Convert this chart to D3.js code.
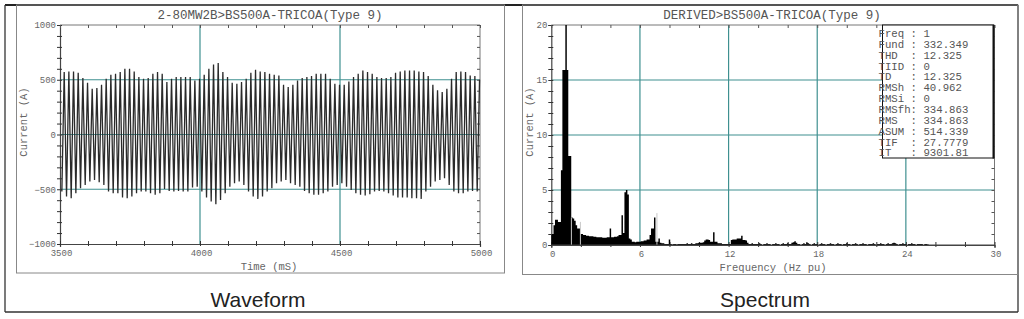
<!DOCTYPE html>
<html><head><meta charset="utf-8">
<script src="https://cdn.jsdelivr.net/npm/d3@7"></script>
<style>html,body{margin:0;padding:0;background:#fff;}svg{display:block}</style>
</head><body>
<svg id="c" width="1024" height="319"></svg>
<script>
// ---------------- DATA ----------------
const wfTitle = "2-80MW2B>BS500A-TRICOA(Type 9)";
const spTitle = "DERIVED>BS500A-TRICOA(Type 9)";
const wfYTicks = [-1000, -500, 0, 500, 1000];
const wfXTicks = [3500, 4000, 4500, 5000];
const wfStart = 3515;          // time of first positive peak (ms)
const wfPeriod = 1000 / 60;    // one cycle (ms)
const posPeaks = [570,575,575,564,515,473,418,424,455,509,545,554,570,600,600,575,524,509,515,554,570,554,479,509,524,524,524,524,494,509,545,600,639,654,570,524,473,464,479,509,564,591,575,570,554,
                  545,539,455,433,455,494,515,524,533,554,554,554,509,464,455,455,485,524,554,585,570,554,524,515,515,524,564,575,585,585,585,575,570,533,455,403,388,418,509,570,575,570,539,533,500];
const negPeaks = [-521,-567,-582,-536,-491,-460,-430,-415,-436,-460,-521,-536,-536,-576,-582,-567,-536,-521,-521,-536,-551,-536,-497,-515,-521,-515,-521,-521,-485,-476,-521,-576,-612,-636,-597,-536,-476,-445,-430,-460,-521,-567,-588,-567,-521,
                  -491,-445,-430,-415,-445,-460,-476,-515,-536,-551,-551,-536,-521,-476,-460,-445,-476,-506,-536,-551,-557,-545,-521,-515,-521,-536,-557,-576,-576,-576,-582,-582,-588,-521,-476,-430,-415,-400,-460,-521,-536,-536,-521,-515,-521];

const spYTicks = [0, 5, 10, 15, 20];
const spXTicks = [0, 6, 12, 18, 24, 30];
const specStep = 0.1;  // Hz pu per bin
const specAmp = [
  0.9,1.0,1.8,2.3,2.3,2.1,2.1,6.8,15.9,15.9,
  332.3,15.9,8.1,8.1,2.5,2.4,2.2,1.8,1.5,1.5,
  1.0,1.0,0.9,0.9,0.85,0.85,0.8,0.8,0.8,0.75,
  0.75,0.7,0.7,0.7,0.7,0.65,0.65,0.65,0.7,0.7,
  1.5,0.7,0.7,0.75,0.75,0.8,0.9,0.9,2.7,1.1,
  4.8,5.0,4.6,0.6,0.5,0.3,0.3,0.25,0.3,0.3,
  0.3,0.35,0.35,0.4,0.4,0.5,0.5,0.9,1.5,1.5,
  2.5,0.3,0.3,0.6,0.2,0.15,0.15,0.1,0.1,0.1,
  0.5,0.1,0.05,0.1,0.1,0.05,0.1,0.1,0.1,0.1,
  0.1,0.1,0.15,0.1,0.1,0.15,0.1,0.1,0.15,0.15,
  0.2,0.2,0.2,0.25,0.4,0.5,0.5,0.45,0.3,0.3,
  1.15,0.3,0.3,0.15,0.15,0.15,0.1,0.1,0.1,0.1,
  0.1,0.1,0.45,0.5,0.5,0.5,0.6,0.6,0.6,0.85,
  0.45,0.45,0.4,0.2,0.1,0.1,0.15,0.1,0.1,0.1,
  0.1,0.15,0.1,0,0.1,0.1,0.15,0.1,0.1,0,
  0.1,0.1,0.15,0.1,0.1,0,0.1,0.15,0.1,0.1,
  0.15,0.1,0.1,0.2,0.25,0.35,0.2,0.1,0.1,0,
  0.1,0.15,0.1,0.25,0.15,0.1,0,0.1,0.15,0.1,
  0.1,0,0.1,0.15,0.1,0.1,0,0.1,0.1,0.15,
  0.1,0.1,0,0.1,0.15,0.1,0.1,0,0.1,0.1,
  0.15,0.1,0.1,0,0.1,0.1,0.15,0.1,0,0.1,
  0.1,0.15,0.1,0.1,0,0.1,0.1,0.1,0.15,0.1,
  0,0.1,0.1,0.15,0.1,0.1,0,0.1,0.15,0.1,
  0.1,0.15,0.2,0.15,0.1,0,0.1,0.1,0.15,0.1,
  0.1,0,0.1,0.1,0.15,0.1,0.1,0,0.1,0.1,
  0.1,0.1,0,0.1,0.1,0.05,0,0,0,0
];
const lightFreq = [1.36, 1.97, 7.15];
const lightAmp  = [2.5, 2.1, 2.9];
const statLabels = ["Freq","Fund","THD","TIID","TD","RMSh","RMSi","RMSfh","RMS","ASUM","TIF","IT"];
const statValues = ["1","332.349","12.325","0","12.325","40.962","0","334.863","334.863","514.339","27.7779","9301.81"];
const captions = ["Waveform", "Spectrum"];

// ---------------- DRAW ----------------
const svg = d3.select("#c");
const mono = "'Liberation Mono','Courier New',monospace";
const sans = "'Liberation Sans',Arial,sans-serif";
const gridCol = "#3f9090";
const fmt = d3.format("d");

// outer table frame
svg.append("line").attr("x1",5).attr("x2",1018).attr("y1",5).attr("y2",5).attr("stroke","#222").attr("stroke-width",2);
svg.append("line").attr("x1",5).attr("x2",1018).attr("y1",312).attr("y2",312).attr("stroke","#333").attr("stroke-width",1.3);
svg.append("line").attr("x1",5).attr("x2",5).attr("y1",5).attr("y2",312).attr("stroke","#333").attr("stroke-width",1.3);
svg.append("line").attr("x1",1018).attr("x2",1018).attr("y1",5).attr("y2",312).attr("stroke","#333").attr("stroke-width",1.3);
// screenshot frames
svg.append("rect").attr("x",16.5).attr("y",5).attr("width",488).attr("height",268).attr("fill","none").attr("stroke","#888").attr("stroke-width",1);
svg.append("rect").attr("x",522.5).attr("y",5).attr("width",495.5).attr("height",269.5).attr("fill","none").attr("stroke","#888").attr("stroke-width",1);

function drawFrame(g, x, y, xMinor, yMinor, xLabelTicks, yLabelTicks, gridX, gridY) {
  const [x0, x1] = x.range(), [y0, y1] = y.range();
  g.selectAll(".gx").data(gridX).enter().append("line")
    .attr("x1", d => x(d)).attr("x2", d => x(d)).attr("y1", y0).attr("y2", y1)
    .attr("stroke", gridCol).attr("stroke-width", 1.2);
  g.selectAll(".gy").data(gridY).enter().append("line")
    .attr("x1", x0).attr("x2", x1).attr("y1", d => y(d)).attr("y2", d => y(d))
    .attr("stroke", gridCol).attr("stroke-width", 1.2);
  g.append("line").attr("x1", x0).attr("x2", x1).attr("y1", y1).attr("y2", y1).attr("stroke", "#777");
  g.append("line").attr("x1", x1).attr("x2", x1).attr("y1", y0).attr("y2", y1).attr("stroke", "#777");
  const la = g.append("g").attr("transform", `translate(${x0},0)`).call(d3.axisLeft(y).tickValues(yMinor).tickSize(3).tickFormat(""));
  la.selectAll(".tick line").attr("x2", -3).attr("x1", 2).attr("stroke", "#333");
  la.select(".domain").attr("stroke", "#444").attr("stroke-width", 1.2);
  const ra = g.append("g").attr("transform", `translate(${x1},0)`).call(d3.axisLeft(y).tickValues(yMinor).tickSize(3).tickFormat(""));
  ra.selectAll(".tick line").attr("stroke", "#555"); ra.select(".domain").remove();
  const ba = g.append("g").attr("transform", `translate(0,${y0})`).call(d3.axisBottom(x).tickValues(xMinor).tickSize(3).tickFormat(""));
  ba.selectAll(".tick line").attr("y1", -3).attr("y2", 2).attr("stroke", "#333");
  ba.select(".domain").attr("stroke", "#444").attr("stroke-width", 1.2);
  const ta = g.append("g").attr("transform", `translate(0,${y1})`).call(d3.axisBottom(x).tickValues(xMinor).tickSize(3).tickFormat(""));
  ta.selectAll(".tick line").attr("stroke", "#555"); ta.select(".domain").remove();
  const ly = g.append("g").attr("transform", `translate(${x0},0)`).call(d3.axisLeft(y).tickValues(yLabelTicks).tickSize(0).tickPadding(4).tickFormat(fmt));
  ly.select(".domain").remove();
  ly.selectAll("text").attr("font-family", mono).attr("font-size", 9).attr("fill", "#666");
  const lx = g.append("g").attr("transform", `translate(0,${y0})`).call(d3.axisBottom(x).tickValues(xLabelTicks).tickSize(0).tickPadding(5.5).tickFormat(fmt));
  lx.select(".domain").remove();
  lx.selectAll("text").attr("font-family", mono).attr("font-size", 9).attr("fill", "#666").attr("dx", 1);
}

// ---- Waveform ----
const xw = d3.scaleLinear().domain([3500, 5000]).range([60, 480]);
const yw = d3.scaleLinear().domain([-1000, 1000]).range([244, 25]);
const gw = svg.append("g");
drawFrame(gw, xw, yw, d3.range(3500, 5001, 100), d3.range(-1000, 1001, 100), wfXTicks, wfYTicks, [4000, 4500], [-500, 0, 500]);
const wfPts = [];
posPeaks.forEach((p, i) => {
  wfPts.push([wfStart + i * wfPeriod - wfPeriod / 2, negPeaks[i]]);
  wfPts.push([wfStart + i * wfPeriod, p]);
});
gw.append("path").datum(wfPts)
  .attr("d", d3.line().x(d => xw(d[0])).y(d => yw(d[1])))
  .attr("fill", "none").attr("stroke", "#2a2a2a").attr("stroke-width", 1.3).attr("stroke-linejoin", "miter");
gw.append("text").attr("x", 270).attr("y", 18.5).attr("text-anchor", "middle")
  .attr("font-family", mono).attr("font-size", 12.5).attr("fill", "#555").text(wfTitle);
gw.append("text").attr("x", 269).attr("y", 270).attr("text-anchor", "middle")
  .attr("font-family", mono).attr("font-size", 10.5).attr("fill", "#666").text("Time (mS)");
gw.append("text").attr("transform", "translate(27,122) rotate(-90)").attr("text-anchor", "middle")
  .attr("font-family", mono).attr("font-size", 10.5).attr("fill", "#666").text("Current (A)");

// ---- Spectrum ----
const xs = d3.scaleLinear().domain([0, 30]).range([551.3, 994.5]);
const ys = d3.scaleLinear().domain([0, 20]).range([245, 25]);
const gs = svg.append("g");
drawFrame(gs, xs, ys, d3.range(0, 31, 2), d3.range(0, 21, 1), spXTicks, spYTicks, [6, 12, 18, 24], [5, 10, 15]);
const specData = specAmp.map((v, i) => ({ f: i * specStep, v: v }));
gs.append("path").datum(specData)
  .attr("d", d3.area().curve(d3.curveStep).x(d => xs(d.f)).y0(ys(0)).y1(d => ys(Math.min(d.v, 20))))
  .attr("fill", "#000").attr("stroke", "none");
gs.selectAll(".lt").data(lightFreq).enter().append("line")
  .attr("x1", d => xs(d)).attr("x2", d => xs(d)).attr("y1", ys(0))
  .attr("y2", (d, i) => ys(lightAmp[i])).attr("stroke", "#c8c8c8").attr("stroke-width", 1);
gs.append("line").attr("x1", xs(0)).attr("x2", xs(30)).attr("y1", ys(0)).attr("y2", ys(0)).attr("stroke", "#444").attr("stroke-width", 1);
gs.append("text").attr("x", 772).attr("y", 18.5).attr("text-anchor", "middle")
  .attr("font-family", mono).attr("font-size", 12.5).attr("fill", "#555").text(spTitle);
gs.append("text").attr("x", 773).attr("y", 271).attr("text-anchor", "middle")
  .attr("font-family", mono).attr("font-size", 10.5).attr("fill", "#666").text("Frequency (Hz pu)");
gs.append("text").attr("transform", "translate(533,122) rotate(-90)").attr("text-anchor", "middle")
  .attr("font-family", mono).attr("font-size", 10.5).attr("fill", "#666").text("Current (A)");
gs.append("rect").attr("x", 882.5).attr("y", 25).attr("width", 111).attr("height", 133).attr("fill", "#fff").attr("stroke", "#111").attr("stroke-width", 1);
gs.append("line").attr("x1", 993.5).attr("x2", 993.5).attr("y1", 25).attr("y2", 158.5).attr("stroke", "#111").attr("stroke-width", 2);
gs.selectAll(".st").data(statLabels).enter().append("text")
  .attr("x", 878.5).attr("y", (d, i) => 37 + i * 10.85)
  .attr("font-family", mono).attr("font-size", 10.7).attr("fill", "#555")
  .style("white-space", "pre")
  .text((d, i) => d.padEnd(5, " ") + ": " + statValues[i]);

// captions
svg.selectAll(".cap").data(captions).enter().append("text")
  .attr("x", (d, i) => i === 0 ? 258 : 765).attr("y", 307)
  .attr("text-anchor", "middle").attr("font-family", sans).attr("font-size", 21).attr("fill", "#222")
  .text(d => d);
</script>
</body></html>
